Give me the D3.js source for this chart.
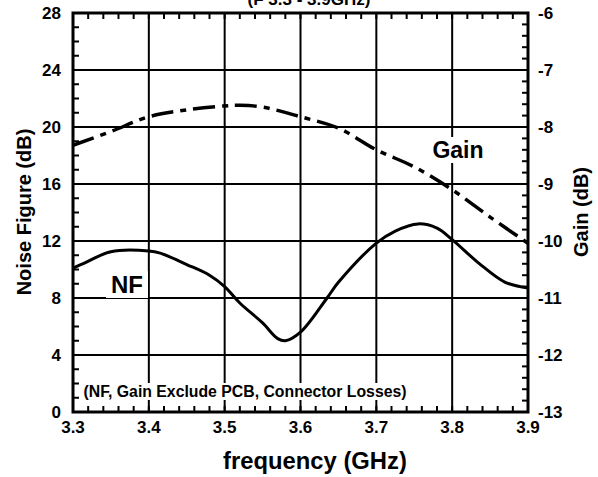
<!DOCTYPE html>
<html><head><meta charset="utf-8">
<script src="https://cdn.jsdelivr.net/npm/d3@7"></script>
<style>body{margin:0;background:#fff}svg{display:block}text{font-family:"Liberation Sans",Arial,sans-serif;font-weight:bold;fill:#000}</style>
</head><body><svg id="c" width="598" height="477"></svg>
<script>
const nfFreq = [3.30,3.315,3.35,3.40,3.415,3.45,3.48,3.50,3.52,3.55,3.57,3.58,3.60,3.635,3.65,3.70,3.725,3.755,3.78,3.80,3.835,3.87,3.90];
const nfVals = [10.1,10.45,11.25,11.3,11.15,10.35,9.6,8.8,7.65,6.25,5.15,5.0,5.6,8.0,9.1,11.85,12.7,13.2,12.9,12.1,10.45,9.1,8.7];
const gainFreq = [3.30,3.35,3.40,3.45,3.50,3.52,3.55,3.60,3.65,3.70,3.75,3.80,3.85,3.90];
const gainVals = [-8.32,-8.08,-7.82,-7.70,-7.63,-7.62,-7.65,-7.82,-8.02,-8.40,-8.70,-9.10,-9.58,-10.04];
const xTicks = [3.3,3.4,3.5,3.6,3.7,3.8,3.9];
const nfTicks = [0,4,8,12,16,20,24,28];
const gainTicks = [-13,-12,-11,-10,-9,-8,-7,-6];

const L=73,R=528,T=13,B=412;
const svg=d3.select("#c");
const x=d3.scaleLinear().domain([3.3,3.9]).range([L,R]);
const yN=d3.scaleLinear().domain([0,28]).range([B,T]);
const yG=d3.scaleLinear().domain([-13,-6]).range([B,T]);

// grid
const g=svg.append("g");
g.selectAll(".vg").data(xTicks.slice(1,-1)).join("line").attr("x1",d=>x(d)).attr("x2",d=>x(d)).attr("y1",T).attr("y2",B).attr("stroke","#000").attr("stroke-width",2);
g.selectAll(".hg").data(nfTicks.slice(1,-1)).join("line").attr("y1",d=>yN(d)).attr("y2",d=>yN(d)).attr("x1",L).attr("x2",R).attr("stroke","#000").attr("stroke-width",2);

// minor ticks
const xMinor=d3.range(3.3,3.9001,0.02);
g.selectAll(".xt").data(xMinor).join("line").attr("x1",d=>x(d)).attr("x2",d=>x(d)).attr("y1",T).attr("y2",T+6).attr("stroke","#000").attr("stroke-width",2);
g.selectAll(".xb").data(xMinor).join("line").attr("x1",d=>x(d)).attr("x2",d=>x(d)).attr("y1",B).attr("y2",B-6).attr("stroke","#000").attr("stroke-width",2);
g.selectAll(".yl").data(d3.range(0,28.01,1)).join("line").attr("y1",d=>yN(d)).attr("y2",d=>yN(d)).attr("x1",L).attr("x2",L+6).attr("stroke","#000").attr("stroke-width",2);
g.selectAll(".yr").data(d3.range(-13,-5.99,0.2)).join("line").attr("y1",d=>yG(d)).attr("y2",d=>yG(d)).attr("x1",R).attr("x2",R-6).attr("stroke","#000").attr("stroke-width",2);

// curves
const nfLine=d3.line().x((d,i)=>x(nfFreq[i])).y(d=>yN(d)).curve(d3.curveCatmullRom.alpha(0.5));
const gLine=d3.line().x((d,i)=>x(gainFreq[i])).y(d=>yG(d)).curve(d3.curveCatmullRom.alpha(0.5));
svg.append("path").attr("d",gLine(gainVals)).attr("fill","none").attr("stroke","#000").attr("stroke-width",3.5).attr("stroke-dasharray","22,7,6,7");
svg.append("path").attr("d",nfLine(nfVals)).attr("fill","none").attr("stroke","#000").attr("stroke-width",3);

// labels with white boxes
function label(t,cx,by,size,pad){
  const tx=svg.append("text").attr("x",cx).attr("y",by).attr("text-anchor","middle").attr("font-size",size).text(t);
  const bb=tx.node().getBBox();
  svg.insert("rect",()=>tx.node()).attr("x",bb.x-pad).attr("y",bb.y).attr("width",bb.width+2*pad).attr("height",bb.height).attr("fill","#fff");
}
label("NF",127,293,24,5);
label("Gain",458,158,23,5);
label("(NF, Gain Exclude PCB, Connector Losses)",245,397,15.8,3);

// frame
svg.append("rect").attr("x",L).attr("y",T).attr("width",R-L).attr("height",B-T).attr("fill","none").attr("stroke","#000").attr("stroke-width",3);

// tick labels
svg.selectAll(".xl").data(xTicks).join("text").attr("x",d=>x(d)).attr("y",433).attr("text-anchor","middle").attr("font-size",17).text(d=>d.toFixed(1));
svg.selectAll(".nl").data(nfTicks).join("text").attr("x",61).attr("y",d=>yN(d)+6).attr("text-anchor","end").attr("font-size",17).text(d=>d);
svg.selectAll(".gl").data(gainTicks).join("text").attr("x",538).attr("y",d=>yG(d)+6).attr("text-anchor","start").attr("font-size",17).text(d=>d);

// titles
svg.append("text").attr("x",315).attr("y",469).attr("text-anchor","middle").attr("font-size",23.8).text("frequency (GHz)");
svg.append("text").attr("transform","translate(31,212) rotate(-90)").attr("text-anchor","middle").attr("font-size",20).text("Noise Figure (dB)");
svg.append("text").attr("transform","translate(588,212) rotate(-90)").attr("text-anchor","middle").attr("font-size",20).text("Gain (dB)");
svg.append("text").attr("x",309).attr("y",5).attr("text-anchor","middle").attr("font-size",17).text("(F 3.3 - 3.9GHz)");
</script></body></html>
